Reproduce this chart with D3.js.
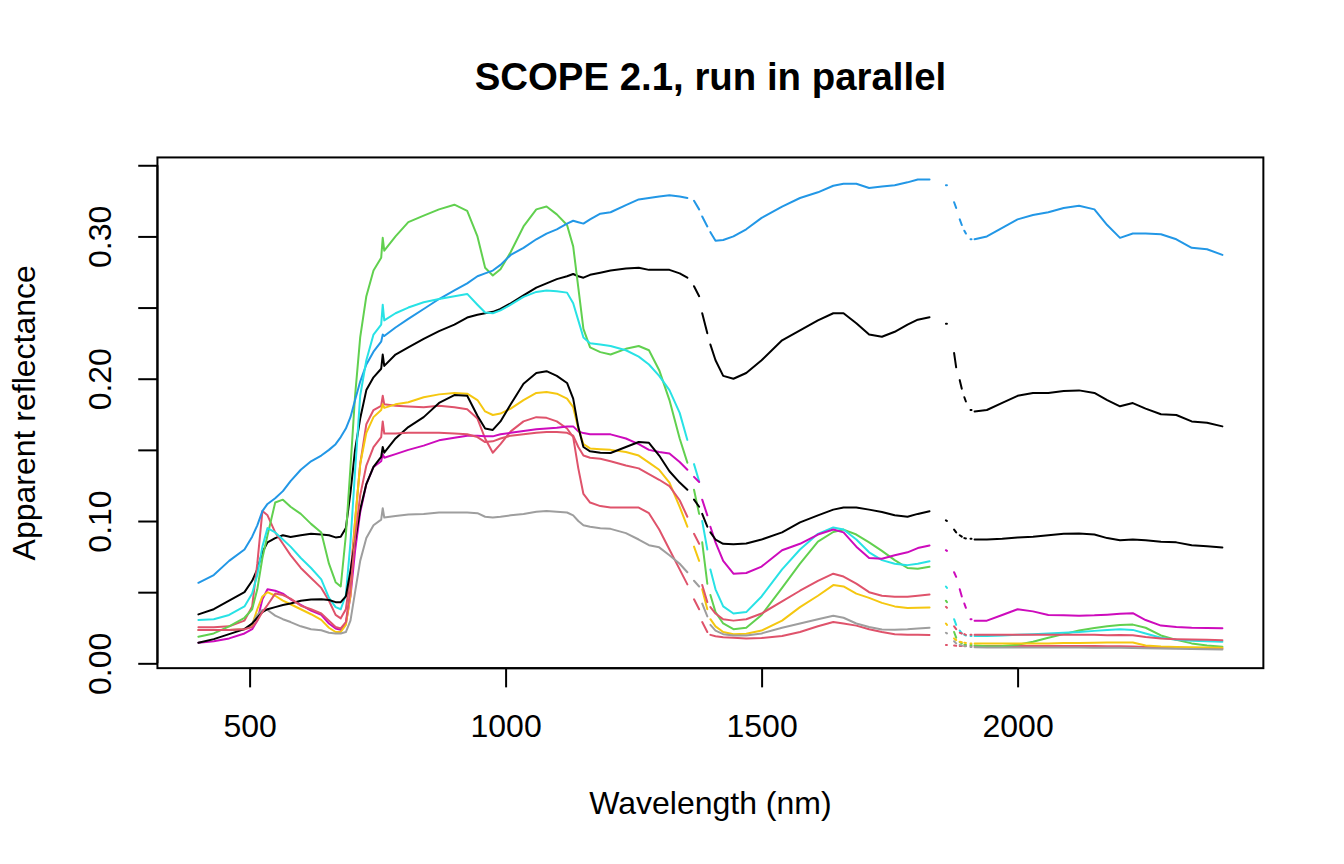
<!DOCTYPE html>
<html>
<head>
<meta charset="utf-8">
<script src="https://cdn.jsdelivr.net/npm/d3@7"></script>
<style>
html,body{margin:0;padding:0;background:#ffffff;}
svg{display:block;font-family:"Liberation Sans",Arial,Helvetica,sans-serif;}
</style>
</head>
<body>
<svg id="chart" width="1344" height="864"></svg>
<script>
// ---------------- DATA ----------------
const wavelengths = [
  400,430,460,490,505,515,525,535,550,565,580,600,
  620,640,655,668,678,688,697,706,716,728,742,757,760,763,
  785,810,840,870,900,925,945,960,975,990,1010,
  1035,1060,1080,1100,1120,1132,1142,1152,1165,1185,1205,
  1235,1260,1280,1300,1320,1340,1355,
  1368,1378,1384,1394,1400,
  1410,1425,1445,1470,1500,1540,
  1575,1610,1640,1660,1685,1710,1735,1760,1785,1805,1828,
  1860,1862,1876,1880,1887,1891,1896,1899,1908,1910,
  1916,1940,1970,2000,2030,2060,2090,2120,2150,2175,2200,2225,2250,2280,2310,2340,2370,2400
];
// wavelengths removed (NA) in the water absorption bands
const missingWavelengths = [1362,1381,1397,1845,1868,1883,1893,1903,1912];

const run1 = [
  .0344,.038,.044,.050,.058,.066,.078,.085,.088,.090,.0888,.090,
  .091,.0905,.090,.0885,.089,.095,.120,.150,.172,.192,.201,.207,.217,.209,
  .217,.222,.228,.2335,.238,.243,.245,.246,.247,.249,.253,
  .2585,.264,.267,.270,.272,.2736,.272,.271,.273,.2745,.276,
  .2775,.278,.2765,.2765,.2765,.274,.271,
  .265,.258,.246,.232,.224,
  .213,.202,.200,.204,.213,.227,
  .234,.241,.246,.246,.239,.231,.2295,.233,.238,.2415,.2432,
  .2386,.2386,.218,.208,.199,.193,.187,.184,.178,.178,
  .177,.178,.183,.188,.190,.190,.1913,.1918,.190,.185,.1806,.1829,.179,.175,.1745,.170,.169,.1665
];
const run2 = [
  .0253,.0253,.026,.030,.040,.070,.107,.104,.092,.084,.076,.067,
  .060,.053,.044,.034,.0316,.038,.062,.100,.140,.168,.178,.181,.188,.182,
  .181,.1805,.180,.181,.180,.1785,.172,.158,.148,.154,.163,
  .170,.173,.1725,.170,.165,.159,.137,.119,.113,.1105,.1095,
  .1095,.1095,.1055,.094,.080,.066,.0555,
  .045,.038,.029,.022,.020,
  .019,.0183,.018,.0175,.0178,.0192,
  .022,.026,.029,.028,.0265,.024,.022,.0205,.020,.020,.0199,
  .0129,.0129,.0125,.0123,.0122,.0122,.0122,.0122,.0122,.0122,
  .0122,.0122,.0122,.0122,.0122,.0122,.0122,.0122,.0121,.012,.012,.0118,.0115,.0112,.011,.0108,.0106,.0105
];
const run3 = [
  .0187,.021,.026,.032,.038,.052,.074,.090,.113,.115,.110,.105,
  .098,.092,.070,.057,.054,.090,.138,.188,.229,.258,.276,.285,.299,.290,
  .300,.310,.3146,.319,.3223,.318,.300,.278,.2725,.277,.289,
  .307,.319,.321,.3155,.308,.293,.264,.235,.222,.2187,.217,
  .221,.223,.220,.206,.185,.158,.141,
  .122,.105,.085,.056,.048,
  .036,.028,.024,.025,.034,.053,
  .070,.0855,.0923,.094,.0905,.085,.079,.0725,.067,.0665,.0678,
  .044,.043,.022,.018,.015,.014,.013,.013,.0128,.0128,
  .0125,.012,.0121,.013,.0152,.018,.0205,.023,.0248,.026,.027,.0272,.025,.0196,.0165,.014,.0125,.0117
];
const run4 = [
  .0566,.062,.072,.080,.089,.097,.107,.112,.116,.121,.128,.136,
  .142,.146,.150,.154,.159,.165,.173,.185,.198,.210,.219,.226,.231,.230,
  .236,.242,.249,.256,.262,.267,.272,.274,.276,.280,.287,
  .292,.298,.302,.305,.309,.311,.310,.309,.312,.316,.317,
  .322,.326,.327,.328,.329,.328,.327,
  .325,.319,.314,.307,.303,
  .297,.2975,.300,.305,.313,.321,
  .327,.331,.3356,.337,.337,.334,.335,.336,.338,.340,.340,
  .336,.336,.324,.320,.312,.308,.304,.302,.298,.298,
  .298,.300,.306,.312,.315,.317,.320,.3216,.319,.308,.299,.302,.302,.3015,.298,.292,.291,.287
];
const run5 = [
  .0304,.031,.034,.040,.049,.062,.082,.095,.092,.087,.082,.074,
  .067,.059,.046,.0395,.038,.048,.085,.135,.188,.213,.231,.238,.252,.241,
  .246,.250,.2537,.256,.258,.2596,.252,.2465,.246,.248,.252,
  .2575,.261,.262,.2614,.2605,.253,.241,.229,.225,.224,.223,
  .220,.2155,.210,.202,.192,.176,.157,
  .140,.128,.100,.080,.066,
  .052,.040,.035,.036,.047,.066,
  .080,.091,.0955,.094,.087,.078,.0725,.070,.069,.070,.0718,
  .054,.053,.031,.027,.023,.021,.020,.0195,.0192,.0192,
  .0192,.0192,.0195,.020,.0205,.021,.0215,.022,.0228,.0235,.024,.0235,.021,.018,.0165,.0158,.0155,.0152
];
const run6 = [
  .0145,.0155,.0175,.021,.024,.030,.045,.052,.051,.049,.045,.041,
  .037,.034,.028,.0245,.0235,.028,.047,.079,.106,.126,.138,.142,.147,.1445,
  .147,.150,.153,.1567,.1585,.160,.160,.1595,.1595,.161,.162,
  .1632,.1645,.165,.1655,.1665,.1665,.163,.1618,.161,.161,.1609,
  .158,.154,.150,.1485,.1475,.1415,.136,
  .131,.1274,.115,.104,.096,
  .085,.072,.063,.0635,.068,.0795,
  .084,.0905,.094,.092,.082,.074,.0735,.076,.078,.081,.0828,
  .0795,.079,.064,.0608,.052,.047,.042,.039,.031,.031,
  .030,.030,.034,.038,.0365,.034,.0338,.0334,.0337,.0342,.0348,.0352,.0304,.0265,.0255,.025,.0248,.0246
];
const run7 = [
  .0234,.0234,.0234,.024,.027,.038,.047,.050,.0475,.044,.0415,.038,
  .0345,.0305,.025,.022,.022,.027,.048,.100,.140,.162,.173,.178,.182,.1795,
  .182,.1835,.187,.189,.190,.1895,.185,.177,.1745,.1755,.179,
  .185,.190,.1906,.1895,.186,.180,.165,.154,.151,.1505,.150,
  .1485,.146,.141,.136,.127,.110,.096,
  .082,.072,.052,.038,.031,
  .026,.022,.0205,.0208,.023,.030,
  .0395,.0475,.055,.054,.049,.046,.0425,.040,.0388,.039,.0393,
  .028,.027,.0175,.0163,.0152,.0148,.0145,.0143,.014,.014,
  .014,.014,.014,.014,.014,.014,.0142,.0143,.0145,.0146,.0147,.0146,.0125,.0118,.0115,.0113,.0111,.011
];
const run8 = [
  .0234,.0234,.0234,.024,.028,.034,.0375,.0375,.0335,.031,.029,.026,
  .024,.0232,.0215,.021,.021,.022,.030,.050,.072,.088,.097,.101,.109,.1025,
  .1035,.1045,.105,.106,.106,.106,.1055,.103,.1025,.103,.104,
  .105,.1065,.107,.1065,.106,.104,.100,.097,.096,.095,.0945,
  .0915,.087,.083,.0815,.076,.070,.064,
  .058,.054,.042,.033,.027,
  .023,.0205,.0195,.0195,.021,.025,
  .028,.031,.0335,.032,.028,.0255,.0238,.0236,.024,.0245,.025,
  .0215,.021,.0155,.014,.013,.0125,.012,.012,.0115,.0115,
  .0113,.0112,.0112,.0112,.0112,.0112,.0111,.0111,.011,.011,.011,.0108,.0106,.0104,.0102,.010,.0099,.0098
];
const run9 = [
  .0145,.017,.0205,.024,.028,.032,.036,.038,.0395,.041,.042,.044,
  .0448,.045,.0445,.043,.043,.047,.065,.086,.108,.126,.138,.145,.152,.148,
  .158,.166,.173,.183,.1885,.188,.174,.165,.164,.170,.182,
  .1965,.204,.2053,.202,.197,.186,.166,.152,.149,.148,.1478,
  .152,.1555,.155,.146,.135,.127,.122,
  .115,.110,.105,.096,.092,
  .087,.084,.0837,.0842,.087,.092,
  .099,.104,.108,.1095,.1095,.108,.1064,.104,.103,.105,.1069,
  .1005,.100,.094,.092,.090,.089,.088,.0877,.0875,.0875,
  .087,.087,.0875,.0885,.089,.090,.091,.0912,.0905,.088,.0865,.087,.0865,.0855,.085,.083,.0822,.0814
];
const run10 = [
  .0234,.0234,.0235,.024,.0255,.030,.036,.041,.049,.048,.0455,.0405,
  .038,.035,.030,.0255,.0245,.029,.052,.088,.118,.139,.152,.159,.170,.1615,
  .1615,.162,.162,.162,.1615,.161,.159,.1555,.156,.158,.160,
  .161,.162,.1625,.1625,.162,.160,.152,.146,.1445,.1438,.142,
  .139,.137,.133,.129,.1245,.1146,.103,
  .091,.084,.055,.043,.0395,
  .035,.031,.030,.031,.035,.0435,
  .051,.058,.063,.061,.056,.050,.0475,.0467,.0467,.0475,.0484,
  .0397,.039,.026,.024,.0215,.021,.0205,.020,.020,.020,
  .020,.020,.020,.020,.020,.020,.020,.020,.020,.0198,.0199,.0198,.0185,.0175,.017,.0167,.0165,.0163
];

const seriesValues = [run1, run2, run3, run4, run5, run6, run7, run8, run9, run10];
const seriesColors = ["#000000","#DF536B","#61D04F","#2297E6","#28E2E5","#CD0BBC","#F5C710","#9E9E9E","#000000","#DF536B"];

const xTicks = [500, 1000, 1500, 2000];
const yTicks = [0, 0.05, 0.10, 0.15, 0.20, 0.25, 0.30, 0.35];
const yLabelledTicks = [0, 0.10, 0.20, 0.30];
const yLimits = [-0.0034, 0.3555];

const titleText = "SCOPE 2.1, run in parallel";
const xLabelText = "Wavelength (nm)";
const yLabelText = "Apparent reflectance";

// ---------------- LAYOUT ----------------
const W = 1344, H = 864;
const lineH = 38.4;               // one R margin line at 192 dpi
const margin = {top: 4.1*lineH, right: 2.1*lineH, bottom: 5.1*lineH, left: 4.1*lineH};
const plotL = margin.left, plotR = W - margin.right, plotT = margin.top, plotB = H - margin.bottom;

const svg = d3.select("#chart");

const xExt = d3.extent(wavelengths);
const xPad = 0.04 * (xExt[1] - xExt[0]);
const x = d3.scaleLinear().domain([xExt[0] - xPad, xExt[1] + xPad]).range([plotL, plotR]);
const y = d3.scaleLinear().domain(yLimits).range([plotB, plotT]);

svg.append("defs").append("clipPath").attr("id", "clip")
  .append("rect").attr("x", plotL).attr("y", plotT).attr("width", plotR - plotL).attr("height", plotB - plotT);

// build point list with breaks where a missing wavelength lies between two samples
function buildPoints(vals) {
  const pts = [];
  for (let i = 0; i < wavelengths.length; i++) {
    pts.push({w: wavelengths[i], v: vals[i]});
    if (i < wavelengths.length - 1) {
      const a = wavelengths[i], b = wavelengths[i + 1];
      if (missingWavelengths.some(m => m > a && m < b)) pts.push(null);
    }
  }
  return pts;
}

const line = d3.line()
  .defined(d => d !== null)
  .x(d => x(d.w))
  .y(d => y(d.v));

const gLines = svg.append("g").attr("clip-path", "url(#clip)");
seriesValues.forEach((vals, i) => {
  gLines.append("path")
    .datum(buildPoints(vals))
    .attr("d", line)
    .attr("fill", "none")
    .attr("stroke", seriesColors[i])
    .attr("stroke-width", 2)
    .attr("stroke-linecap", "round")
    .attr("stroke-linejoin", "round");
});

// box
svg.append("rect")
  .attr("x", plotL).attr("y", plotT)
  .attr("width", plotR - plotL).attr("height", plotB - plotT)
  .attr("fill", "none").attr("stroke", "#000").attr("stroke-width", 2);

const tickLen = 0.5 * lineH;

// x axis
const xAxis = d3.axisBottom(x).tickValues(xTicks).tickSize(tickLen).tickPadding(0).tickFormat(d3.format("d"));
const gx = svg.append("g").attr("transform", `translate(0,${plotB})`).call(xAxis);
gx.select(".domain").attr("d", `M${x(xTicks[0])},0H${x(xTicks[xTicks.length-1])}`).attr("stroke-width", 2);
gx.selectAll(".tick line").attr("stroke-width", 2);
gx.selectAll(".tick text")
  .attr("y", 1.8 * lineH).attr("dy", null)
  .style("font-size", "32px").style("font-family", '"Liberation Sans",Arial,sans-serif').attr("fill", "#000");

// y axis
const yAxis = d3.axisLeft(y).tickValues(yTicks).tickSize(tickLen).tickPadding(0)
  .tickFormat(d => yLabelledTicks.some(t => Math.abs(t - d) < 1e-9) ? d3.format(".2f")(d) : "");
const gy = svg.append("g").attr("transform", `translate(${plotL},0)`).call(yAxis);
gy.select(".domain").attr("d", `M0,${y(yTicks[0])}V${y(yTicks[yTicks.length-1])}`).attr("stroke-width", 2);
gy.selectAll(".tick line").attr("stroke-width", 2);
gy.selectAll(".tick text")
  .attr("x", null).attr("dy", null)
  .attr("text-anchor", "middle")
  .attr("transform", `translate(${-1.2 * lineH},0) rotate(-90)`)
  .style("font-size", "32px").style("font-family", '"Liberation Sans",Arial,sans-serif').attr("fill", "#000");

// title
svg.append("text")
  .attr("x", (plotL + plotR) / 2).attr("y", 90)
  .attr("text-anchor", "middle")
  .style("font-size", "38.4px").style("font-weight", "bold")
  .text(titleText);

// x label
svg.append("text")
  .attr("x", (plotL + plotR) / 2).attr("y", plotB + 3.8 * lineH)
  .attr("text-anchor", "middle")
  .style("font-size", "32px")
  .text(xLabelText);

// y label
svg.append("text")
  .attr("transform", `translate(${plotL - 3.2 * lineH},${(plotT + plotB) / 2}) rotate(-90)`)
  .attr("text-anchor", "middle")
  .style("font-size", "32px")
  .text(yLabelText);
</script>
</body>
</html>
